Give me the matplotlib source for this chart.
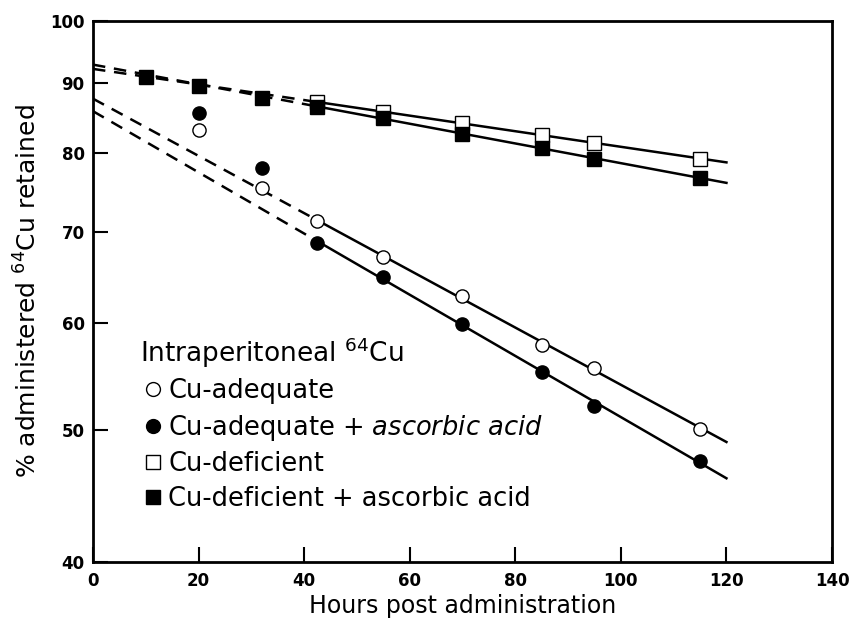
import numpy as np
import matplotlib
matplotlib.use("Agg")
import matplotlib.pyplot as plt
from matplotlib.ticker import FixedLocator, NullLocator, FixedFormatter

plt.rcParams['font.family'] = ['DejaVu Sans']
plt.rcParams['mathtext.fontset'] = 'dejavusans'

# ---------------- DATA ----------------
hours_adeq = [20, 32, 42.5, 55, 70, 85, 95, 115]
adeq = [83.1, 75.4, 71.3, 67.0, 62.8, 57.8, 55.6, 50.1]
hours_adeq_aa = [20, 32, 42.5, 55, 70, 85, 95, 115]
adeq_aa = [85.5, 78.0, 68.7, 64.8, 59.9, 55.2, 52.1, 47.5]

hours_def = [42.5, 55, 70, 85, 95, 115]
defic = [87.2, 85.7, 84.1, 82.4, 81.4, 79.2]
hours_def_aa = [10, 20, 32, 42.5, 55, 70, 85, 95, 115]
defic_aa = [90.9, 89.6, 87.8, 86.5, 84.8, 82.6, 80.6, 79.2, 76.7]

FIT_START = 42    # regression uses points from here on, dashed before it
FIT_END = 120

yticks = [40, 50, 60, 70, 80, 90, 100]
xticks = [0, 20, 40, 60, 80, 100, 120, 140]


def fit_line(h, v):
    h = np.asarray(h, float)
    v = np.asarray(v, float)
    m = h >= FIT_START
    slope, icpt = np.polyfit(h[m], np.log(v[m]), 1)
    return lambda t: np.exp(icpt + slope * np.asarray(t, float))


fig = plt.figure(figsize=(8.49, 6.28), dpi=100)
ax = fig.add_axes([0.1095, 0.105, 0.8705, 0.8616])

for h, v in [(hours_adeq, adeq), (hours_adeq_aa, adeq_aa),
             (hours_def, defic), (hours_def_aa, defic_aa)]:
    f = fit_line(h, v)
    t_d = np.array([0, FIT_START])
    t_s = np.array([FIT_START, FIT_END])
    ax.plot(t_d, f(t_d), color='black', lw=1.8, ls=(0, (5, 3.5)), zorder=2)
    ax.plot(t_s, f(t_s), color='black', lw=1.8, zorder=2)

ms = 9.5
ax.plot(hours_adeq, adeq, 'o', mfc='white', mec='black', mew=1.0, ms=ms,
        ls='none', label='Cu-adequate', zorder=3)
ax.plot(hours_adeq_aa, adeq_aa, 'o', mfc='black', mec='black', ms=ms,
        ls='none', label='Cu-adequate + $\\it{ascorbic\\ acid}$', zorder=3)
ax.plot(hours_def, defic, 's', mfc='white', mec='black', mew=1.0, ms=ms,
        ls='none', label='Cu-deficient', zorder=3)
ax.plot(hours_def_aa, defic_aa, 's', mfc='black', mec='black', ms=ms,
        ls='none', label='Cu-deficient + ascorbic acid', zorder=4)

ax.set_yscale('log')
ax.set_ylim(40, 100)
ax.set_xlim(0, 140)
ax.yaxis.set_major_locator(FixedLocator(yticks))
ax.yaxis.set_major_formatter(FixedFormatter([str(t) for t in yticks]))
ax.yaxis.set_minor_locator(NullLocator())
ax.set_xticks(xticks)
ax.set_xticklabels([str(t) for t in xticks])

ax.tick_params(direction='in', length=11, width=1.5, top=False, right=False,
               labelsize=12)
for lbl in ax.get_xticklabels() + ax.get_yticklabels():
    lbl.set_fontweight('bold')
ax.tick_params(axis='x', pad=7)
ax.tick_params(axis='y', pad=6)
for s in ax.spines.values():
    s.set_linewidth(2)

ax.set_xlabel('Hours post administration', fontsize=17, labelpad=3)
ax.set_ylabel('% administered $^{64}$Cu retained', fontsize=18, labelpad=6)

leg = ax.legend(title='Intraperitoneal $^{64}$Cu', loc='upper left',
                bbox_to_anchor=(0.05, 0.438), frameon=False, fontsize=18.5,
                title_fontsize=19, handletextpad=0.1, handlelength=1.0,
                labelspacing=0.33, alignment='left', borderaxespad=0,
                markerscale=1.05)

fig.savefig('out.png', dpi=100)
